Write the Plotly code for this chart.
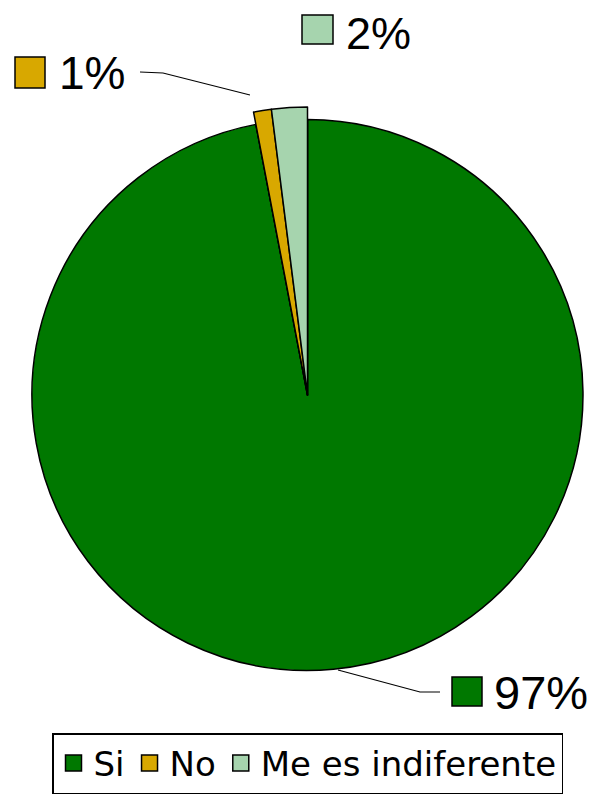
import plotly.graph_objects as go

# ---- data ----
labels = ["Si", "No", "Me es indiferente"]
values = [97, 1, 2]
colors = ["#007800", "#D8A800", "#A6D4AE"]

# page has an 8px body margin, so the figure is offset by 8px
OFF = 8
W, H = 596 - OFF, 796 - OFF
total = sum(values)
pcts = [round(v / total * 100) for v in values]


def px(x):
    return (x - OFF) / W


def py(y):
    return 1 - (y - OFF) / H


cx, cy, r_main = 307.5, 395, 275.5
r_big = (596 - cx) - 0.5  # max radius for the exploded slivers

fig = go.Figure()

# main pie
fig.add_trace(go.Pie(
    labels=labels, values=values, sort=False, direction="clockwise", rotation=0,
    marker=dict(colors=colors, line=dict(color="black", width=1.5)),
    textinfo="none", hoverinfo="label+percent",
    domain=dict(x=[px(cx - r_main), px(cx + r_main)],
                y=[py(cy + r_main), py(cy - r_main)]),
    showlegend=False,
))

# exploded small slices drawn larger on top
fig.add_trace(go.Pie(
    labels=labels, values=values, sort=False, direction="clockwise", rotation=0,
    marker=dict(colors=["rgba(0,0,0,0)", colors[1], colors[2]],
                line=dict(color=["rgba(0,0,0,0)", "black", "black"], width=[0, 1.5, 1.5])),
    textinfo="none", hoverinfo="skip",
    domain=dict(x=[px(cx - r_big), min(1.0, px(cx + r_big))],
                y=[py(cy + r_big), py(cy - r_big)]),
    showlegend=False,
))

# legend entries (square keys)
for lab, col in zip(labels, colors):
    fig.add_trace(go.Scatter(
        x=[None], y=[None], mode="markers", name=lab,
        marker=dict(symbol="square", size=22, color=col, line=dict(color="black", width=1.5)),
        showlegend=True, hoverinfo="skip",
    ))

# outside labels with key squares
label_pos = {
    # idx: (key x0, key y0, key x1, key y1, text left x, text center y, font size)
    0: (452, 677, 482, 706, 493, 692, 47),
    1: (15, 57, 45, 88, 58, 73, 46),
    2: (302, 15, 333, 44, 345, 33, 45),
}
shapes = []
annotations = []
for i, (kx0, ky0, kx1, ky1, tx, ty, fs) in label_pos.items():
    shapes.append(dict(type="rect", xref="paper", yref="paper",
                       x0=px(kx0), x1=px(kx1), y0=py(ky1), y1=py(ky0),
                       fillcolor=colors[i], line=dict(color="black", width=1.5)))
    annotations.append(dict(text=f"{pcts[i]}%", xref="paper", yref="paper",
                            x=px(tx), y=py(ty), xanchor="left", yanchor="middle",
                            showarrow=False, borderpad=0,
                            font=dict(family="Liberation Sans, Arial", size=fs, color="black")))


# leader lines
def path(points):
    return "M " + " L ".join(f"{px(x)},{py(y)}" for x, y in points)


shapes.append(dict(type="path", xref="paper", yref="paper",
                   path=path([(140, 72), (163, 73), (250, 95)]),
                   line=dict(color="black", width=1.2)))
shapes.append(dict(type="path", xref="paper", yref="paper",
                   path=path([(338, 670), (420, 692), (440, 692)]),
                   line=dict(color="black", width=1.2)))

fig.update_layout(
    width=W, height=H,
    margin=dict(l=0, r=0, t=0, b=0, autoexpand=False),
    paper_bgcolor="white", plot_bgcolor="white",
    xaxis=dict(visible=False), yaxis=dict(visible=False),
    shapes=shapes, annotations=annotations,
    legend=dict(orientation="h", x=px(cx), xanchor="center", y=py(733), yanchor="top",
                bordercolor="black", borderwidth=1.5, bgcolor="white",
                font=dict(family="DejaVu Sans", size=34, color="black"),
                itemsizing="trace", traceorder="normal"),
)

fig.write_html("out.html")
